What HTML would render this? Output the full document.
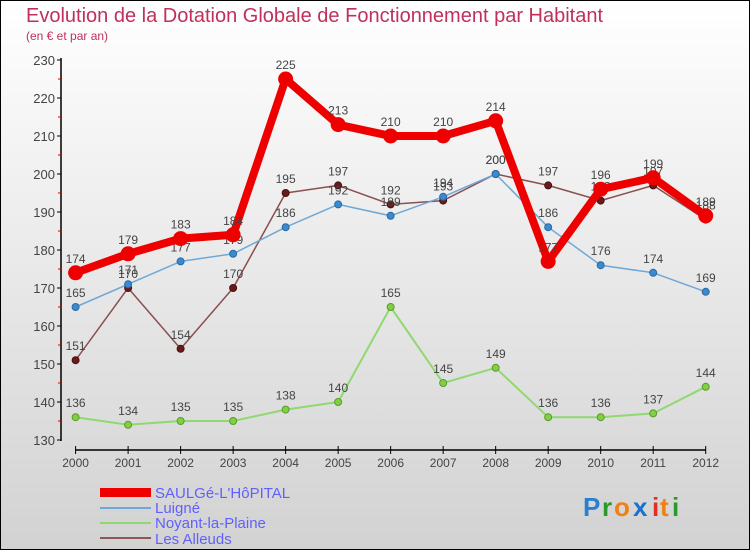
<!DOCTYPE html>
<html><head><meta charset="utf-8"><style>
html,body{margin:0;padding:0}
body{width:750px;height:550px;overflow:hidden;font-family:"Liberation Sans",sans-serif}
svg text{font-family:"Liberation Sans",sans-serif}
</style></head><body>
<svg width="750" height="550" xmlns="http://www.w3.org/2000/svg">
<defs><linearGradient id="bg" x1="0" y1="0" x2="0" y2="1"><stop offset="0" stop-color="#ffffff"/><stop offset="1" stop-color="#d2d2d2"/></linearGradient></defs>
<rect x="0.5" y="0.5" width="749" height="549" fill="url(#bg)" stroke="#000"/>
<text x="26" y="22" font-size="20" fill="#c0305a">Evolution de la Dotation Globale de Fonctionnement par Habitant</text>
<text x="26" y="40" font-size="12" fill="#c0305a">(en € et par an)</text>
<g id="axes"></g>
<g id="series"></g>
<g id="legend" font-size="15" fill="#5555ee">
<rect x="100" y="488" width="51" height="9" fill="#ee0000"/>
<text x="155" y="498" fill="#6060ff">SAULGé-L'HôPITAL</text>
<rect x="100" y="507" width="51" height="2" fill="#6fa8d8"/>
<text x="155" y="513" fill="#6060ff">Luigné</text>
<rect x="100" y="522" width="51" height="2" fill="#90d870"/>
<text x="155" y="528" fill="#6060ff">Noyant-la-Plaine</text>
<rect x="100" y="537" width="51" height="2" fill="#8a5858"/>
<text x="155" y="544" fill="#6060ff">Les Alleuds</text>
</g>
<g font-size="26" font-weight="bold" font-family="Liberation Sans">
<text x="583" y="516" fill="#2a7fd0">P</text><text x="602" y="516" fill="#2a9a2a">r</text><text x="614" y="516" fill="#f08010">o</text><text x="633" y="516" fill="#1a70d0">x</text><text x="652" y="516" fill="#e03020">i</text><text x="660" y="516" fill="#f08010">t</text><text x="672" y="516" fill="#2a9a2a">i</text>
</g>
</svg>
<script>
const years=[2000,2001,2002,2003,2004,2005,2006,2007,2008,2009,2010,2011,2012];
const saulge=[174,179,183,184,225,213,210,210,214,177,196,199,189];
const luigne=[165,171,177,179,186,192,189,194,200,186,176,174,169];
const noyant=[136,134,135,135,138,140,165,145,149,136,136,137,144];
const alleuds=[151,170,154,170,195,197,192,193,200,197,193,197,188];
const yTicks=[130,140,150,160,170,180,190,200,210,220,230];
const NS="http://www.w3.org/2000/svg";
function xs(i){return 75.6+i*(705.7-75.6)/(years.length-1);}
function ys(v){return 440-(v-130)*3.8;}
function mk(t,a,p){const e=document.createElementNS(NS,t);for(const k in a)e.setAttribute(k,a[k]);p.appendChild(e);return e;}
const ax=document.getElementById('axes');
let l=mk('line',{x1:61,y1:58,x2:61,y2:441,stroke:'#000','stroke-width':1.5},ax);


l=mk('line',{x1:75,y1:450,x2:706,y2:450,stroke:'#000','stroke-width':1.5},ax);


yTicks.forEach((v,i)=>{
 mk('line',{x1:57,y1:ys(v),x2:61,y2:ys(v),stroke:'#000'},ax);
 if(i<yTicks.length-1)mk('line',{x1:58,y1:ys(v+5),x2:61,y2:ys(v+5),stroke:'#d00'},ax);
 const t=mk('text',{x:55,y:ys(v)+5,'text-anchor':'end','font-size':13,fill:'#444'},ax);t.textContent=v;
 
 
});
years.forEach((y,i)=>{
 mk('line',{x1:xs(i),y1:446,x2:xs(i),y2:454,stroke:'#000'},ax);
 const t=mk('text',{x:xs(i),y:467,'text-anchor':'middle','font-size':12,fill:'#444'},ax);t.textContent=y;
 
 
});
const sg=document.getElementById('series');
function draw(vals,name,color,w,r,dot,dotStroke){
 const g=mk('g',{},sg);
 
 
 const pts=vals.map((v,i)=>xs(i)+','+ys(v)).join(' ');
 mk('polyline',{points:pts,fill:'none',stroke:color,'stroke-width':w,'stroke-linejoin':'round'},g);
 vals.forEach((v,i)=>{
  const c=mk('circle',{cx:xs(i),cy:ys(v),r:r,fill:dot,stroke:dotStroke,'stroke-width':1},g);
  
  
  const t=mk('text',{x:xs(i),y:ys(v)-10,'text-anchor':'middle','font-size':12,fill:'#444'},g);t.textContent=v;
  
  
 });
}
draw(noyant,'noyant','#90d870',2,3.5,'#80d040','#5a9a30');
draw(alleuds,'alleuds','#8a5050',1.5,3.5,'#6a1a1a','#4a1010');
draw(luigne,'luigne','#6fa8d8',1.5,3.5,'#3a8ad0','#2a6aa0');
draw(saulge,'saulge','#ee0000',8,7,'#ee0000','#ee0000');
</script>
</body></html>
